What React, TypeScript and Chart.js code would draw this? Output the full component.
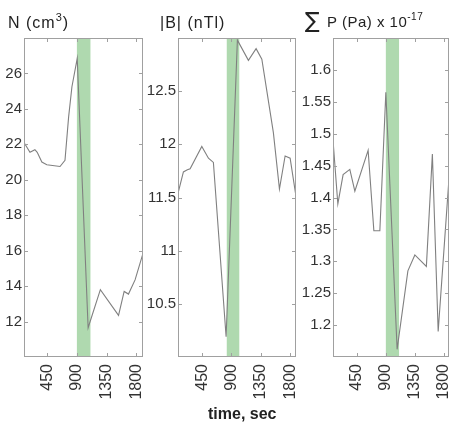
import React, { useEffect, useRef } from 'react';
import { Chart, registerables } from 'chart.js';

Chart.register(...registerables);

const FONT = '"Liberation Sans", Arial, Helvetica, sans-serif';
const LINE_COLOR = '#808080';
const FRAME_COLOR = '#a0a0a0';
const TEXT_COLOR = '#333333';
const BAND_COLOR = '#afd9af';

// shared x ticks (time, sec)
const TIME_TICKS = [450, 900, 1350, 1800];

// Panel 1: N (cm^3)
const N_TIME = [100, 190, 265, 300, 370, 445, 645, 720, 775, 825, 905, 1070, 1255, 1530, 1615, 1680, 1780, 1900];
const N_VALUES = [22.1, 21.55, 21.7, 21.55, 21.0, 20.85, 20.75, 21.1, 23.55, 25.25, 26.85, 11.65, 13.8, 12.35, 13.7, 13.55, 14.35, 15.85];
const N_TICKS = [12, 14, 16, 18, 20, 22, 24, 26];
const N_BAND = [900, 1105];

// Panel 2: |B| (nTl)
const B_TIME = [80, 163, 224, 266, 445, 547, 623, 818, 991, 1160, 1278, 1366, 1543, 1636, 1723, 1800, 1890];
const B_VALUES = [11.54, 11.74, 11.76, 11.77, 11.98, 11.87, 11.83, 10.19, 12.98, 12.79, 12.9, 12.8, 12.11, 11.58, 11.89, 11.87, 11.51];
const B_TICKS = [10.5, 11, 11.5, 12, 12.5];
const B_BAND = [828, 1020];

// Panel 3: sum P (Pa) x 10^-17
const P_TIME = [80, 155, 237, 341, 419, 625, 714, 807, 900, 1075, 1242, 1350, 1529, 1622, 1712, 1880];
const P_VALUES = [1.49, 1.39, 1.436, 1.444, 1.41, 1.474, 1.348, 1.348, 1.565, 1.162, 1.285, 1.31, 1.292, 1.468, 1.19, 1.43];
const P_TICKS = [1.2, 1.25, 1.3, 1.35, 1.4, 1.45, 1.5, 1.55, 1.6];
const P_BAND = [900, 1105];

type Panel = {
  left: number;
  width: number;
  axisWidth: number;
  rightPad: number;
  xMin: number;
  xMax: number;
  yMin: number;
  yMax: number;
  times: number[];
  values: number[];
  yTicks: number[];
  band: number[];
};

const PANELS: Panel[] = [
  { left: 0, width: 150, axisWidth: 24, rightPad: 7, xMin: 100, xMax: 1900, yMin: 10, yMax: 28, times: N_TIME, values: N_VALUES, yTicks: N_TICKS, band: N_BAND },
  { left: 138, width: 162, axisWidth: 40, rightPad: 4, xMin: 80, xMax: 1890, yMin: 10, yMax: 13, times: B_TIME, values: B_VALUES, yTicks: B_TICKS, band: B_BAND },
  { left: 290, width: 161, axisWidth: 43, rightPad: 2, xMin: 80, xMax: 1880, yMin: 1.15, yMax: 1.65, times: P_TIME, values: P_VALUES, yTicks: P_TICKS, band: P_BAND },
];

const bandPlugin = {
  id: 'band',
  beforeDatasetsDraw(chart: any, _args: any, opts: any) {
    const { ctx, chartArea, scales } = chart;
    const x0 = scales.x.getPixelForValue(opts.from);
    const x1 = scales.x.getPixelForValue(opts.to);
    ctx.save();
    ctx.fillStyle = BAND_COLOR;
    ctx.fillRect(x0, chartArea.top, x1 - x0, chartArea.bottom - chartArea.top);
    ctx.restore();
  },
};

const framePlugin = {
  id: 'frame',
  afterDatasetsDraw(chart: any) {
    const { ctx, chartArea, scales } = chart;
    const { left, right, top, bottom } = chartArea;
    ctx.save();
    ctx.strokeStyle = FRAME_COLOR;
    ctx.lineWidth = 1;
    ctx.strokeRect(Math.round(left) + 0.5, Math.round(top) + 0.5, Math.round(right - left) - 1, Math.round(bottom - top) - 1);
    const len = 4;
    ctx.beginPath();
    scales.x.ticks.forEach((t: any) => {
      const px = Math.round(scales.x.getPixelForValue(t.value)) + 0.5;
      ctx.moveTo(px, bottom);
      ctx.lineTo(px, bottom - len);
      ctx.moveTo(px, top);
      ctx.lineTo(px, top + len);
    });
    scales.y.ticks.forEach((t: any) => {
      const py = Math.round(scales.y.getPixelForValue(t.value)) + 0.5;
      ctx.moveTo(left, py);
      ctx.lineTo(left + len, py);
      ctx.moveTo(right, py);
      ctx.lineTo(right - len, py);
    });
    ctx.stroke();
    ctx.restore();
  },
};

function PanelChart({ p }: { p: Panel }) {
  const ref = useRef<HTMLCanvasElement>(null);
  useEffect(() => {
    const chart = new Chart(ref.current as HTMLCanvasElement, {
      type: 'line',
      data: {
        datasets: [
          {
            data: p.times.map((t, i) => ({ x: t, y: p.values[i] })),
            borderColor: LINE_COLOR,
            borderWidth: 1.1,
            pointRadius: 0,
            tension: 0,
            fill: false,
          },
        ],
      },
      options: {
        responsive: false,
        animation: false,
        devicePixelRatio: 1,
        layout: { padding: { top: 38, right: p.rightPad, left: 0, bottom: 0 } },
        plugins: {
          legend: { display: false },
          tooltip: { enabled: false },
          title: { display: false },
          band: { from: p.band[0], to: p.band[1] },
        } as any,
        scales: {
          x: {
            type: 'linear',
            min: p.xMin,
            max: p.xMax,
            afterBuildTicks: (s: any) => {
              s.ticks = TIME_TICKS.map((v) => ({ value: v }));
            },
            afterFit: (s: any) => {
              s.height = 68;
              s.paddingLeft = 0;
              s.paddingRight = 0;
              s.paddingTop = 0;
              s.paddingBottom = 0;
            },
            ticks: {
              autoSkip: false,
              minRotation: 90,
              maxRotation: 90,
              padding: 7,
              color: TEXT_COLOR,
              font: { family: FONT, size: 16 },
              callback: (v: any) => String(v),
            },
            grid: { display: false, drawTicks: false },
            border: { display: false },
          },
          y: {
            type: 'linear',
            min: p.yMin,
            max: p.yMax,
            afterBuildTicks: (s: any) => {
              s.ticks = p.yTicks.map((v) => ({ value: v }));
            },
            afterFit: (s: any) => {
              s.width = p.axisWidth;
              s.paddingLeft = 0;
              s.paddingRight = 0;
              s.paddingTop = 0;
              s.paddingBottom = 0;
            },
            ticks: {
              autoSkip: false,
              padding: 2,
              color: TEXT_COLOR,
              font: { family: FONT, size: 15 },
              callback: (v: any) => String(v),
            },
            grid: { display: false, drawTicks: false },
            border: { display: false },
          },
        },
      },
      plugins: [bandPlugin, framePlugin],
    } as any);
    return () => chart.destroy();
  }, [p]);
  return (
    <canvas
      ref={ref}
      width={p.width}
      height={425}
      style={{ position: 'absolute', left: p.left, top: 0, display: 'block' }}
    />
  );
}

const titleStyle: React.CSSProperties = {
  position: 'absolute',
  fontFamily: FONT,
  fontSize: 16,
  lineHeight: '20px',
  color: '#222',
  whiteSpace: 'nowrap',
};

const supStyle: React.CSSProperties = {
  fontSize: 11,
  position: 'relative',
  top: -7,
};

export default function App() {
  return (
    <div style={{ position: 'absolute', left: 0, top: 0, width: 451, height: 425, background: '#fff', overflow: 'hidden' }}>
      {PANELS.map((p, i) => (
        <PanelChart key={i} p={p} />
      ))}
      <div style={{ ...titleStyle, left: 8, top: 13, letterSpacing: 1 }}>
        N (cm<span style={supStyle}>3</span>)
      </div>
      <div style={{ ...titleStyle, left: 160, top: 13, letterSpacing: 1 }}>|B| (nTl)</div>
      <div style={{ ...titleStyle, left: 305, top: 8, fontFamily: '"DejaVu Sans", sans-serif', fontSize: 22, lineHeight: '26px' }}>∑</div>
      <div style={{ ...titleStyle, left: 327, top: 12, fontSize: 15, letterSpacing: 0.5 }}>
        P (Pa) x 10<span style={{ ...supStyle, fontSize: 10 }}>-17</span>
      </div>
      <div style={{ ...titleStyle, left: 208, top: 404, fontWeight: 'bold' }}>time, sec</div>
    </div>
  );
}
